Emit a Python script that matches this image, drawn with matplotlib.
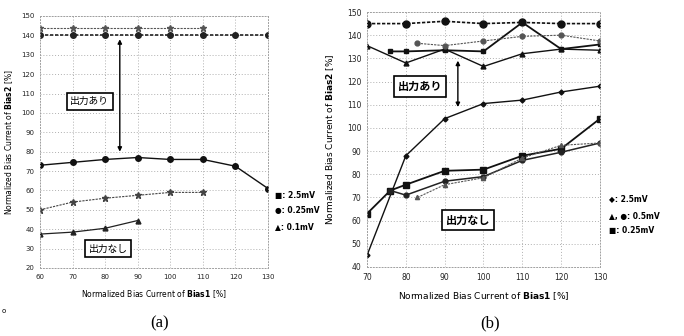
import matplotlib
matplotlib.use("Agg")
import matplotlib.pyplot as plt

plt.rcParams['font.family'] = ['DejaVu Sans']
plt.rcParams['mathtext.fontset'] = 'dejavusans'

# ---------------- data: panel (a) ----------------
xa = [60, 70, 80, 90, 100, 110, 120, 130]
a_25_upper = [140, 140, 140, 140, 140, 140, 140, 140]
a_025_upper_x = [60, 70, 80, 90, 100, 110]
a_025_upper = [144, 144, 144, 144, 144, 144]
a_25_lower = [73, 74.5, 76, 77, 76, 76, 72.5, 61]
a_025_lower_x = [60, 70, 80, 90, 100, 110]
a_025_lower = [50, 54, 56, 57.5, 59, 59]
a_01_lower_x = [60, 70, 80, 90]
a_01_lower = [37.5, 38.5, 40.5, 44.5]
a_xticks = [60, 70, 80, 90, 100, 110, 120, 130]
a_yticks = [20, 30, 40, 50, 60, 70, 80, 90, 100, 110, 120, 130, 140, 150]

# ---------------- data: panel (b) ----------------
xb = [70, 80, 90, 100, 110, 120, 130]
b_top = [145, 145, 146, 145, 145.5, 145, 145]
b_v = [135.5, 128, 134, 126.5, 132, 134, 133.5]
b_thick_x = [76, 80, 90, 100, 110, 120, 130]
b_thick = [133, 133, 133.5, 133, 145.5, 134, 136]
b_c_x = [83, 90, 100, 110, 120, 130]
b_c = [136.5, 135.5, 137.5, 139.5, 140, 137.5]
b_l1 = [45, 88, 104, 110.5, 112, 115.5, 118]
b_sq_x = [70, 76, 80, 90, 100, 110, 120, 130]
b_sq = [63, 73, 75.5, 81.5, 82, 88, 91, 104]
b_ci_x = [76, 80, 90, 100, 110, 120, 130]
b_ci = [73, 71, 77, 79, 86, 89.5, 93.5]
b_tr_x = [83, 90, 100, 110, 120, 130]
b_tr = [70, 75.5, 78.5, 87, 92.5, 93.5]
b_xticks = [70, 80, 90, 100, 110, 120, 130]
b_yticks = [40, 50, 60, 70, 80, 90, 100, 110, 120, 130, 140, 150]

W, H = 684, 336
fig = plt.figure(figsize=(W / 100, H / 100), dpi=100)

def px_axes(l, t, r, b):
    return fig.add_axes([l / W, 1 - b / H, (r - l) / W, (b - t) / H])

def style(ax, xt, yt, fs):
    ax.set_xticks(xt)
    ax.set_yticks(yt)
    ax.tick_params(length=0, labelsize=fs, colors='#222222', pad=4)
    ax.grid(True, linestyle=(0, (1, 2)), color='#b0b0b0', linewidth=0.7)
    for s in ax.spines.values():
        s.set_linestyle((0, (1, 2)))
        s.set_color('#a0a0a0')
        s.set_linewidth(0.7)

jp = ['Noto Sans CJK JP', 'DejaVu Sans']

# ---------------- panel (a) ----------------
axa = px_axes(40, 16, 268, 268)
axa.plot(xa, a_25_upper, color='#222222', lw=1.2, ls=(0, (2, 1)), marker='o', ms=4)
axa.plot(a_025_upper_x, a_025_upper, color='#555555', lw=0.8, ls=(0, (2, 1)), marker='*', ms=4.5)
axa.plot(xa, a_25_lower, color='#111111', lw=1.0, marker='o', ms=4)
axa.plot(a_025_lower_x, a_025_lower, color='#444444', lw=0.8, ls=(0, (2, 1)), marker='*', ms=4.5)
axa.plot(a_01_lower_x, a_01_lower, color='#222222', lw=0.9, marker='^', ms=3.5)
axa.set_xlim(60, 130)
axa.set_ylim(20, 150)
style(axa, a_xticks, a_yticks, 5)
axa.annotate('', xy=(84.5, 138), xytext=(84.5, 80),
             arrowprops=dict(arrowstyle='<|-|>', color='black', lw=1.0,
                             mutation_scale=6, shrinkA=0, shrinkB=0))
axa.text(75.3, 106, '出力あり', fontsize=7, family=jp, ha='center', va='center',
         bbox=dict(boxstyle='square,pad=0.35', fc='white', ec='black', lw=1.2))
axa.text(81, 30, '出力なし', fontsize=7, family=jp, ha='center', va='center',
         bbox=dict(boxstyle='square,pad=0.35', fc='white', ec='black', lw=1.2))
axa.set_xlabel(r'Normalized Bias Current of $\mathbf{Bias1}$ [%]', fontsize=5.5, labelpad=6)
axa.set_ylabel(r'Normalized Bias Current of $\mathbf{Bias2}$ [%]', fontsize=5.5, labelpad=4)

fig.text(275 / W, 1 - 195 / H, '■: 2.5mV', fontsize=5.5, fontweight='bold', va='center')
fig.text(275 / W, 1 - 211 / H, '●: 0.25mV', fontsize=5.5, fontweight='bold', va='center')
fig.text(275 / W, 1 - 227 / H, '▲: 0.1mV', fontsize=5.5, fontweight='bold', va='center')

# ---------------- panel (b) ----------------
axb = px_axes(367, 12, 600, 267)
axb.plot(xb, b_top, color='#111111', lw=1.2, ls=(0, (2, 1)), marker='o', ms=5)
axb.plot(xb, b_v, color='#111111', lw=1.0, marker='^', ms=3.5)
axb.plot(b_thick_x, b_thick, color='#111111', lw=1.3, marker='s', ms=3.5)
axb.plot(b_c_x, b_c, color='#555555', lw=0.8, ls=(0, (2, 1)), marker='o', ms=3.5)
axb.plot(xb, b_l1, color='#111111', lw=1.0, marker='D', ms=2.5)
axb.plot(b_sq_x, b_sq, color='#111111', lw=1.3, marker='s', ms=4.5)
axb.plot(b_ci_x, b_ci, color='#222222', lw=1.1, marker='o', ms=3.5)
axb.plot(b_tr_x, b_tr, color='#555555', lw=0.8, ls=(0, (2, 1)), marker='^', ms=3)
axb.set_xlim(70, 130)
axb.set_ylim(40, 150)
style(axb, b_xticks, b_yticks, 5.5)
axb.annotate('', xy=(93.4, 129), xytext=(93.4, 109),
             arrowprops=dict(arrowstyle='<|-|>', color='black', lw=1.0,
                             mutation_scale=6, shrinkA=0, shrinkB=0))
axb.text(83.7, 118, '出力あり', fontsize=8, fontweight='bold', family=jp, ha='center', va='center',
         bbox=dict(boxstyle='square,pad=0.35', fc='white', ec='black', lw=1.2))
axb.text(96, 60.3, '出力なし', fontsize=8, fontweight='bold', family=jp, ha='center', va='center',
         bbox=dict(boxstyle='square,pad=0.35', fc='white', ec='black', lw=1.2))
axb.set_xlabel(r'Normalized Bias Current of $\mathbf{Bias1}$ [%]', fontsize=6.5, labelpad=6)
axb.set_ylabel(r'Normalized Bias Current of $\mathbf{Bias2}$ [%]', fontsize=6.5, labelpad=8)

fig.text(609 / W, 1 - 199 / H, '◆: 2.5mV', fontsize=5.5, fontweight='bold', va='center')
fig.text(609 / W, 1 - 216 / H, '▲, ●: 0.5mV', fontsize=5.5, fontweight='bold', va='center')
fig.text(609 / W, 1 - 231 / H, '■: 0.25mV', fontsize=5.5, fontweight='bold', va='center')

fig.text(160 / W, 1 - 323 / H, '(a)', fontsize=12, family='Liberation Serif', ha='center', va='center')
fig.text(490 / W, 1 - 323 / H, '(b)', fontsize=12, family='Liberation Serif', ha='center', va='center')
fig.text(2 / W, 1 - 311 / H, 'o', fontsize=5, va='center')

fig.savefig('out.png', dpi=100)
